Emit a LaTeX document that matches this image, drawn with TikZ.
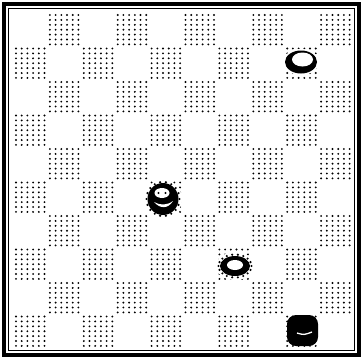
\documentclass[tikz,border=0pt]{standalone}
\begin{document}
\begin{tikzpicture}[x=1pt,y=-1pt,
  dotstyle/.style={fill=black},
  frameouter/.style={draw=black,line width=4.5pt},
  frameinner/.style={draw=black,line width=1pt}]
\useasboundingbox (0,0) rectangle (363,359);
\fill[white] (0,0) rectangle (363,359);
% stippled dark squares
\foreach \r in {0,...,9} {
  \foreach \c in {0,...,9} {
    \ifodd\numexpr\r+\c\relax
      \foreach \i in {0,...,5} {
        \foreach \j in {0,...,6} {
          \fill[dotstyle] (13+33.9*\c+3.0+5.7*\i, 12+33.5*\r+3.0+4.9*\j) circle (1.05);
        }
      }
    \fi
  }
}
% frame
\draw[frameouter] (4,4) rectangle (359,355);
\draw[frameinner] (8.5,8.5) rectangle (354.5,350.5);
% white man (row 1, col 8)
\fill[white] (301,62) ellipse (18 and 13);
\fill (301,62) ellipse (16 and 11.5);
\fill[white] (302.5,59.5) ellipse (10.5 and 7);
% white man (row 7, col 6) with spiky rim
\fill[white] (235,266) ellipse (19 and 14);
\foreach \a in {0,20,...,340}
  \fill ({235+16.5*cos(\a)},{266+11.5*sin(\a)}) circle (1.2);
\fill (235,266) ellipse (15 and 10);
\fill[white] (235,265) ellipse (8 and 5);
% white king (row 5, col 4)
\fill[white] (163,199) ellipse (19 and 19);
\foreach \a in {0,20,...,340}
  \fill ({163+16.5*cos(\a)},{199+17*sin(\a)}) circle (1.2);
\fill (163,199) ellipse (15.5 and 16);
\fill[white] (162,193) ellipse (7.5 and 5);
\fill (158.5,193) circle (1.2);
\fill (165.5,193) circle (1.2);
\fill[white] (154,202) .. controls (160,209) and (168,209) .. (173,201)
  .. controls (167,205.5) and (160,205.5) .. (154,202);
% black king (row 9, col 8)
\fill[rounded corners=9pt] (287,315) rectangle (318,346);
\draw[white,line width=1.3pt] (297,333) .. controls (304,335) .. (312,332);
\end{tikzpicture}
\end{document}
